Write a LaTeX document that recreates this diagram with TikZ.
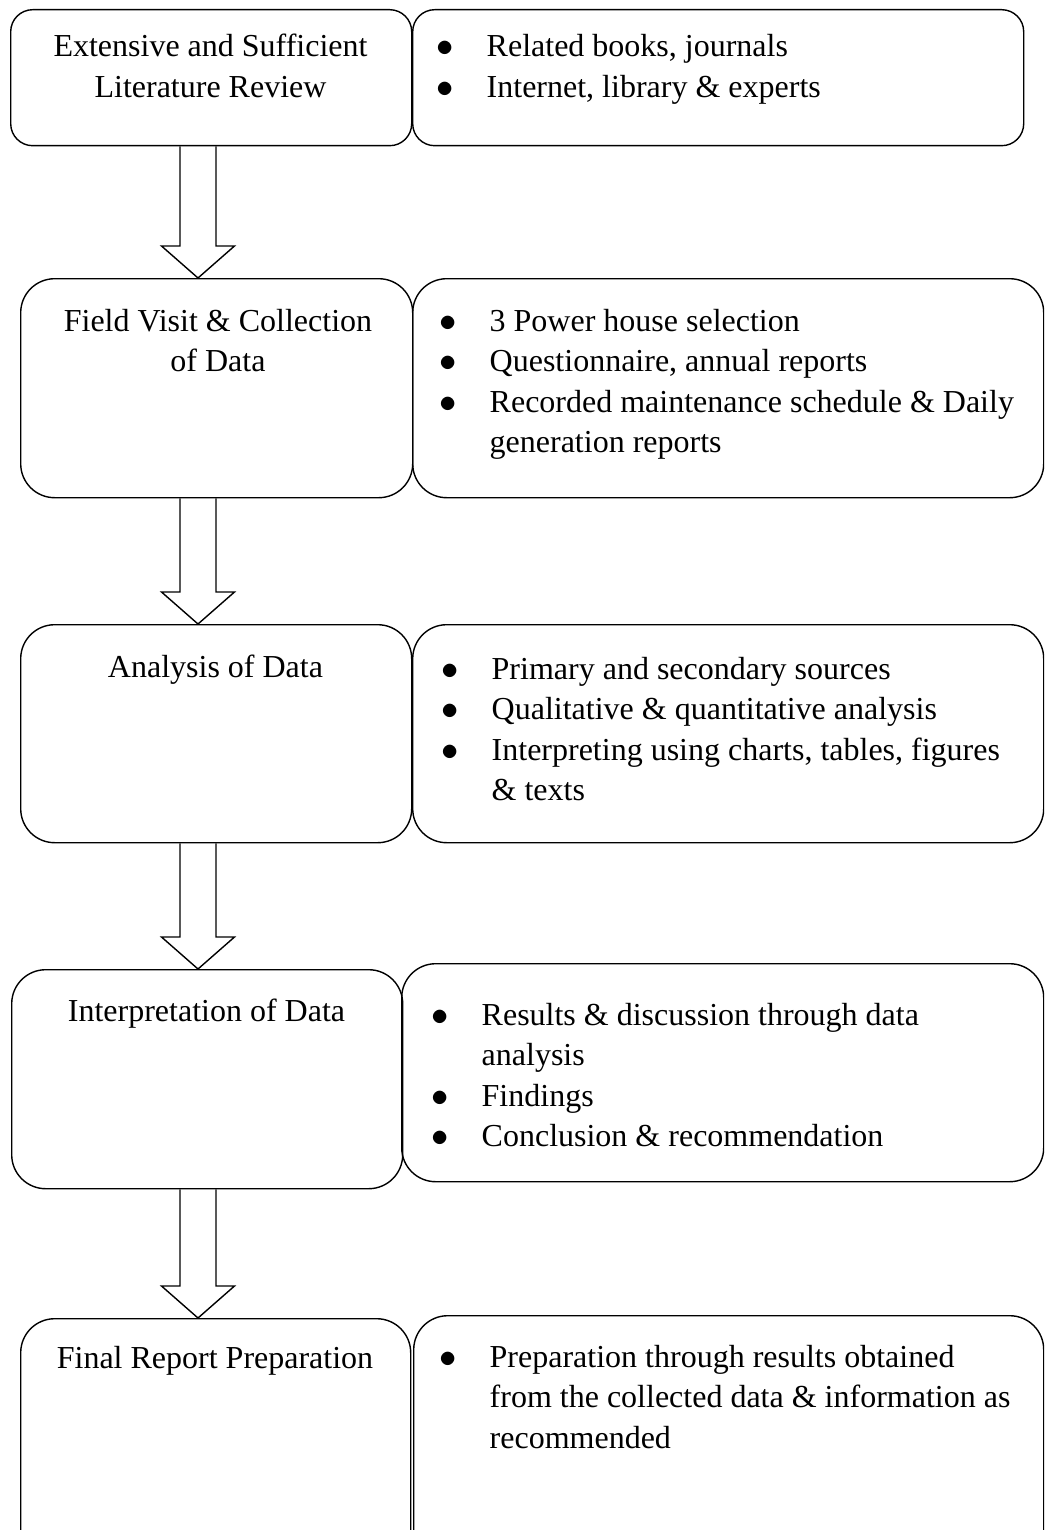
\documentclass[tikz,border=0pt]{standalone}
\usepackage{fontspec}
\setmainfont{Liberation Serif}
\usetikzlibrary{calc}

\newcommand\stagelines[1]{\begin{tabular}[t]{@{}c@{}}#1\end{tabular}}
\newcommand\bulletlines[1]{\begin{tabular}[t]{@{}p{24pt}@{}l@{}}#1\end{tabular}}
\newcommand\listdot{\hspace{-1pt}$\bullet$}
\newcommand\stagearrow[2]{%
  \draw ($(#1.south -| ax)+(-18,0)$) -- ($(#2.north -| ax)+(-18,-32)$)
    -- ($(#2.north -| ax)+(-36.5,-32)$) -- (#2.north -| ax)
    -- ($(#2.north -| ax)+(36.5,-32)$) -- ($(#2.north -| ax)+(18,-32)$)
    -- ($(#1.south -| ax)+(18,0)$);}

\begin{document}
\begin{tikzpicture}[x=0.5pt, y=-0.5pt, line width=0.7pt,
    font=\fontsize{16}{20.3}\selectfont,
    stagebox/.style={draw, anchor=north west, inner sep=0pt, rounded corners=17pt},
    stagename/.style={anchor=base, inner sep=0pt},
    stagelist/.style={anchor=base west, inner sep=0pt}]
  \useasboundingbox (0,0) rectangle (1044,1530);
  \clip (0,0) rectangle (1044,1530);
  \coordinate (ax) at (198,0);

  % stages
  \node[stagebox, rounded corners=11pt, minimum width=200.5pt, minimum height=68pt] (s1) at (10,9) {};
  \node[stagebox, minimum width=196pt, minimum height=109.5pt] (s2) at (20,278) {};
  \node[stagebox, minimum width=195.5pt, minimum height=109pt] (s3) at (20,624) {};
  \node[stagebox, minimum width=195.5pt, minimum height=109.5pt] (s4) at (11,969) {};
  \node[stagebox, minimum width=195pt, minimum height=130pt] (s5) at (20,1318) {};

  % details
  \node[stagebox, rounded corners=11pt, minimum width=305.5pt, minimum height=68pt] (d1) at (412,9) {};
  \node[stagebox, minimum width=315.5pt, minimum height=109.5pt] (d2) at (412,278) {};
  \node[stagebox, minimum width=315.5pt, minimum height=109pt] (d3) at (412,624) {};
  \node[stagebox, minimum width=321pt, minimum height=109pt] (d4) at (401,963) {};
  \node[stagebox, minimum width=315pt, minimum height=130pt] (d5) at (413,1315) {};

  \node[stagename] (n1) at (210.5,57) {\stagelines{Extensive and Sufficient\\Literature Review}};
  \node[stagename] (n2) at (218,331) {\stagelines{Field Visit \& Collection\\of Data}};
  \node[stagename] (n3) at (215.5,677) {Analysis of Data};
  \node[stagename] (n4) at (206.5,1021) {Interpretation of Data};
  \node[stagename] (n5) at (215,1368) {Final Report Preparation};

  \node[stagelist] (l1) at (438,57) {\bulletlines{%
    \listdot & Related books, journals\\
    \listdot & Internet, library \& experts}};
  \node[stagelist] (l2) at (441,331) {\bulletlines{%
    \listdot & 3 Power house selection\\
    \listdot & Questionnaire, annual reports\\
    \listdot & Recorded maintenance schedule \& Daily\\
      & generation reports}};
  \node[stagelist] (l3) at (443,679) {\bulletlines{%
    \listdot & Primary and secondary sources\\
    \listdot & Qualitative \& quantitative analysis\\
    \listdot & Interpreting using charts, tables, figures\\
      & \& texts}};
  \node[stagelist] (l4) at (433,1025) {\bulletlines{%
    \listdot & Results \& discussion through data\\
      & analysis\\
    \listdot & Findings\\
    \listdot & Conclusion \& recommendation}};
  \node[stagelist] (l5) at (441,1367) {\bulletlines{%
    \listdot & Preparation through results obtained\\
      & from the collected data \& information as\\
      & recommended}};

  % arrows
  \stagearrow{s1}{s2}
  \stagearrow{s2}{s3}
  \stagearrow{s3}{s4}
  \stagearrow{s4}{s5}
\end{tikzpicture}
\end{document}
